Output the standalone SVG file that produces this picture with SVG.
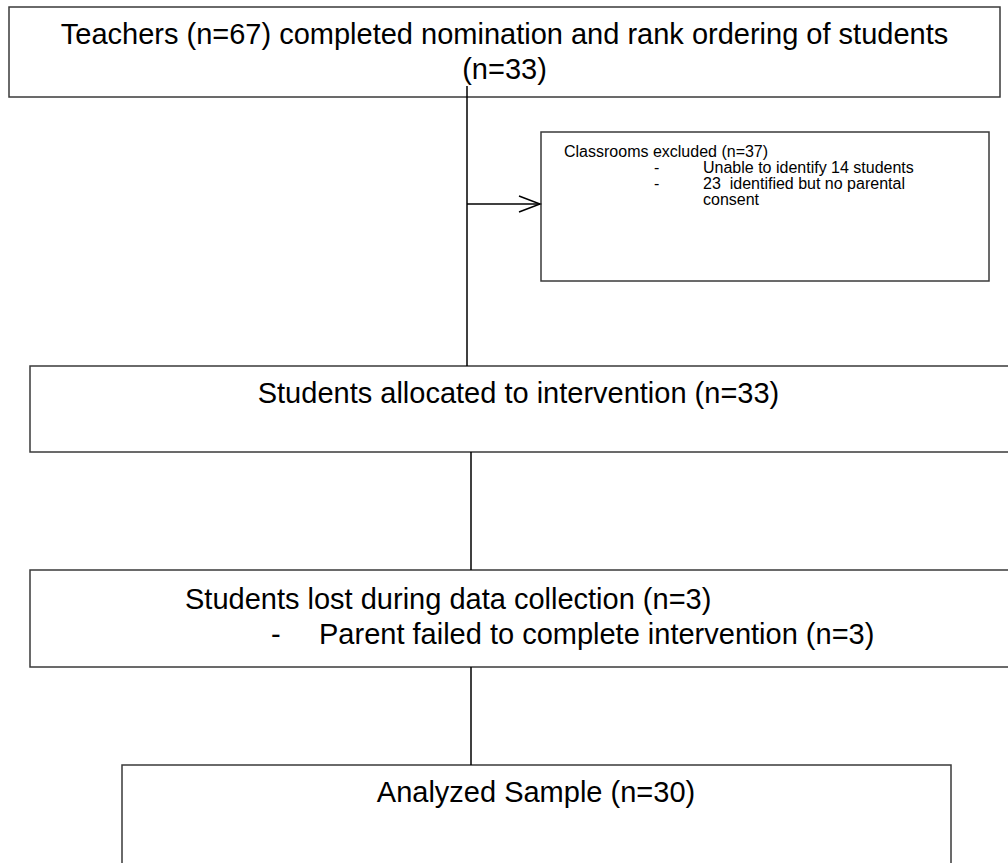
<svg xmlns="http://www.w3.org/2000/svg" width="1008" height="863" viewBox="0 0 1008 863">
<style>
.box{fill:#fff;stroke:#3a3a3a;stroke-width:1.5}
.t{font-family:"Liberation Sans",Arial,sans-serif;font-size:29px;fill:#000}
.s{font-family:"Liberation Sans",Arial,sans-serif;font-size:16px;fill:#000;white-space:pre}
.c{stroke:#000;stroke-width:1.5;fill:none}
</style>
<rect width="1008" height="863" fill="#fff"/>
<g id="teachers">
<rect class="box" x="9" y="7" width="991" height="90"/>
<text class="t" x="504.5" y="44" text-anchor="middle">Teachers (n=67) completed nomination and rank ordering of students</text>
<text class="t" x="504.5" y="79" text-anchor="middle">(n=33)</text>
</g>
<g id="excluded">
<rect class="box" x="541" y="132" width="448" height="149"/>
<text class="s" x="564" y="157">Classrooms excluded (n=37)</text>
<text class="s" x="654" y="173">-</text>
<text class="s" x="703" y="173">Unable to identify 14 students</text>
<text class="s" x="654" y="189">-</text>
<text class="s" x="703" y="189" xml:space="preserve">23  identified but no parental</text>
<text class="s" x="703" y="205">consent</text>
</g>
<g id="allocated">
<rect class="box" x="30" y="366" width="1000" height="86"/>
<text class="t" x="518.5" y="403" text-anchor="middle">Students allocated to intervention (n=33)</text>
</g>
<g id="lost">
<rect class="box" x="30" y="570" width="1000" height="97"/>
<text class="t" x="185" y="609">Students lost during data collection (n=3)</text>
<text class="t" x="271" y="644">-</text>
<text class="t" x="319" y="644">Parent failed to complete intervention (n=3)</text>
</g>
<g id="analyzed">
<rect class="box" x="122" y="765" width="829" height="130"/>
<text class="t" x="536" y="802" text-anchor="middle">Analyzed Sample (n=30)</text>
</g>
<g id="connectors">
<line class="c" x1="467" y1="86" x2="467" y2="366"/>
<line class="c" x1="467" y1="204" x2="540" y2="204"/>
<path class="c" d="M519,196 L540,204 L519,212"/>
<line class="c" x1="471" y1="452" x2="471" y2="570"/>
<line class="c" x1="471" y1="667" x2="471" y2="765"/>
</g>
</svg>
